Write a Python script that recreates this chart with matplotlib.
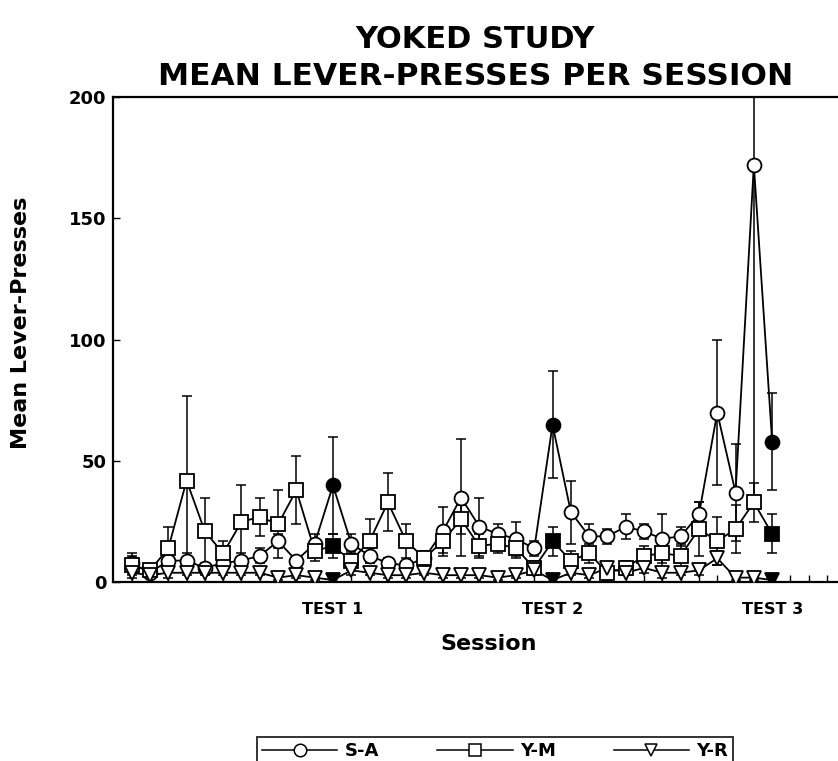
import matplotlib.pyplot as plt
from matplotlib.lines import Line2D
import numpy as np

plt.rcParams['font.family'] = ['DejaVu Sans']

# sessions 1..36, tests every 12th session
sessions = np.arange(1, 37)
test_sessions = [12, 24, 36]
test_labels = ['TEST 1', 'TEST 2', 'TEST 3']

sa_mean = [8, 4, 9, 9, 6, 8, 9, 11, 17, 9, 16, 40,
           16, 11, 8, 7, 10, 21, 35, 23, 20, 18, 14, 65,
           29, 19, 19, 23, 21, 18, 19, 28, 70, 37, 172, 58]
sa_sem = [4, 1, 3, 3, 2, 2, 3, 3, 3, 2, 4, 20,
          4, 3, 2, 2, 2, 10, 24, 12, 4, 7, 3, 22,
          13, 5, 3, 5, 3, 10, 4, 5, 30, 20, 140, 20]

ym_mean = [7, 5, 14, 42, 21, 12, 25, 27, 24, 38, 13, 15,
           9, 17, 33, 17, 10, 17, 26, 15, 16, 14, 6, 17,
           9, 12, 4, 6, 11, 12, 11, 22, 17, 22, 33, 20]
ym_sem = [4, 2, 9, 35, 14, 5, 15, 8, 14, 14, 4, 5,
          4, 9, 12, 7, 3, 5, 6, 5, 4, 4, 3, 6,
          4, 4, 3, 3, 4, 6, 5, 11, 10, 10, 8, 8]

yr_mean = [4, 3, 4, 4, 4, 4, 4, 4, 2, 3, 2, 1,
           5, 4, 3, 3, 4, 3, 3, 3, 2, 3, 5, 1,
           4, 3, 6, 4, 6, 4, 4, 5, 10, 2, 2, 1]
yr_sem = [2, 1, 2, 1, 1, 1, 1, 1, 1, 1, 1, 1,
          2, 1, 1, 1, 1, 1, 1, 1, 1, 1, 2, 1,
          1, 1, 2, 1, 2, 2, 1, 2, 3, 1, 1, 1]

groups = [('S-A', sa_mean, sa_sem, 'o'),
          ('Y-M', ym_mean, ym_sem, 's'),
          ('Y-R', yr_mean, yr_sem, 'v')]

fig = plt.figure(figsize=(8.38, 7.61), dpi=100)
# axes run past the right edge of the page, like the scan
ax = fig.add_axes([0.1353, 0.2346, 0.8953, 0.638])

is_test = np.isin(sessions, test_sessions)
for name, mean, sem, mk in groups:
    mean = np.array(mean)
    ax.errorbar(sessions, mean, yerr=sem, fmt='-', color='black', lw=1.3,
                elinewidth=1.1, capsize=3.5, capthick=1.1, zorder=2)
    ax.plot(sessions[~is_test], mean[~is_test], ls='none', marker=mk, ms=10,
            mfc='white', mec='black', mew=1.3, zorder=3)
    ax.plot(sessions[is_test], mean[is_test], ls='none', marker=mk, ms=10,
            mfc='black', mec='black', mew=1.3, zorder=3)

ax.set_xlim(0, 41)
ax.set_ylim(0, 200)
ax.set_xticks(test_sessions)
ax.set_xticklabels(test_labels, fontsize=11.5, fontweight='bold')
ax.set_xticks(np.arange(1, 41), minor=True)
ax.tick_params(axis='x', which='both', direction='in', length=5, width=1, pad=14)
ax.set_yticks([0, 50, 100, 150, 200])
ax.set_yticklabels(['0', '50', '100', '150', '200'], fontsize=13, fontweight='bold')
ax.tick_params(axis='y', direction='in', length=5, width=1, pad=5)
for s in ax.spines.values():
    s.set_linewidth(1.6)

ax.set_xlabel('Session', fontsize=16, fontweight='bold', labelpad=12)
ax.set_ylabel('Mean Lever-Presses', fontsize=16, fontweight='bold')
ax.yaxis.set_label_coords(-0.11, 0.535)

fig.text(0.567, 0.948, 'YOKED STUDY', ha='center', va='center',
         fontsize=22, fontweight='bold')
fig.text(0.567, 0.900, 'MEAN LEVER-PRESSES PER SESSION', ha='center', va='center',
         fontsize=22.5, fontweight='bold')

handles = [Line2D([], [], color='black', lw=1.1, marker=mk, ms=9, mfc='white',
                  mec='black', mew=1.1) for _, _, _, mk in groups]
leg = fig.legend(handles, [g[0] for g in groups], loc='upper center',
                 bbox_to_anchor=(0.5907, 0.031), ncol=3, frameon=True, fancybox=False,
                 edgecolor='black', handlelength=4.2, handletextpad=0.4,
                 columnspacing=3.2, borderpad=0.25, borderaxespad=0,
                 prop={'size': 13, 'weight': 'bold'})
leg.get_frame().set_linewidth(1.4)

fig.savefig('out.png', dpi=100)
